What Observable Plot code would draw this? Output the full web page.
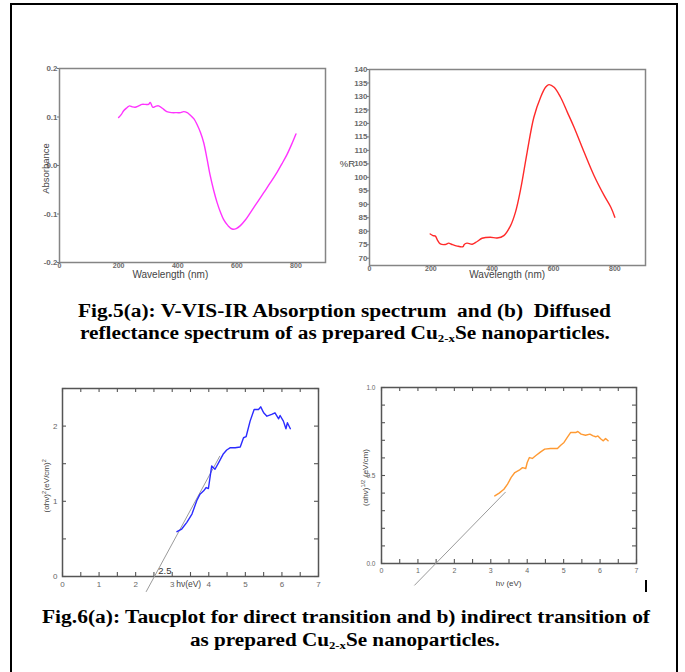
<!DOCTYPE html>
<html><head><meta charset="utf-8">
<script src="https://cdn.jsdelivr.net/npm/d3@7"></script>
<script src="https://cdn.jsdelivr.net/npm/@observablehq/plot@0.6"></script>
<style>
body{margin:0;background:#fff;width:685px;height:672px;overflow:hidden;position:relative;font-family:"Liberation Sans",Arial,sans-serif}
#border{position:absolute;left:10px;top:3px;width:664px;height:700px;border:2px solid #000;border-bottom:none}
.panel{position:absolute}
.panel svg{overflow:visible}
.cap{position:absolute;font-family:"Liberation Serif","Times New Roman",serif;font-weight:bold;color:#000;white-space:nowrap;font-size:18px;line-height:22px;transform-origin:center center}
.cap sub{font-size:0.6em;vertical-align:-0.25em;line-height:0}
#bar{position:absolute;left:645px;top:580px;width:2px;height:12px;background:#000}
</style></head><body>
<div id="border"></div>
<div id="p1" class="panel" style="left:29px;top:58px"></div>
<div id="p2" class="panel" style="left:329px;top:57px"></div>
<div id="p3" class="panel" style="left:30px;top:378px"></div>
<div id="p4" class="panel" style="left:345px;top:377px"></div>
<div id="bar"></div>
<div id="c1a" class="cap" data-cx="344.5" data-cy="311" data-w="533">Fig.5(a): V-VIS-IR Absorption spectrum&nbsp; and (b)&nbsp; Diffused</div>
<div id="c1b" class="cap" data-cx="345" data-cy="333" data-w="530">reflectance spectrum of as prepared Cu<sub>2-x</sub>Se nanoparticles.</div>
<div id="c2a" class="cap" data-cx="346" data-cy="617" data-w="608">Fig.6(a): Taucplot for direct transition and b) indirect transition of</div>
<div id="c2b" class="cap" data-cx="345" data-cy="640" data-w="310">as prepared Cu<sub>2-x</sub>Se nanoparticles.</div>
<script>
// ---- Fig 5(a) absorbance ----
const absWavelength = [200,210,217,228,237,246,256,268,279,290,301,307,316,325,335,348,363,380,397,410,420,432,442,455,465,477,488,499,510,522,533,545,555,570,584,598,612,628,646,668,691,714,736,753,770,785,800];
const absValue = [0.099,0.106,0.113,0.119,0.123,0.121,0.120,0.123,0.126,0.126,0.126,0.130,0.120,0.122,0.123,0.118,0.111,0.109,0.109,0.109,0.111,0.109,0.104,0.096,0.085,0.068,0.047,0.014,-0.021,-0.052,-0.076,-0.097,-0.111,-0.124,-0.131,-0.130,-0.124,-0.113,-0.097,-0.077,-0.056,-0.035,-0.014,0.004,0.023,0.043,0.065];
const absYTicks = [-0.2,-0.1,0,0.1,0.2];
const wlTicks = [0,200,400,600,800];

// ---- Fig 5(b) reflectance ----
const refWavelength = [198,207,215,222,231,247,258,269,286,305,309,318,335,351,367,394,416,438,460,476,493,514,536,558,574,585,602,623,645,667,700,732,765,787,800];
const refValue = [79.0,78.4,78.2,76.6,75.3,75.1,75.6,75.1,74.5,74.3,75.1,75.6,75.2,76.2,77.4,77.8,77.5,78.4,82.1,87.1,95.7,109.3,122.3,129.7,133.4,134.4,133.4,129.7,124.2,118.6,109.3,100.7,93.3,88.9,85.2];
const refYTicks = [70,75,80,85,90,95,100,105,110,115,120,125,130,135,140];

// ---- Fig 6(a) direct Tauc ----
const directHv = [3.13,3.26,3.40,3.54,3.67,3.76,3.86,3.93,3.99,4.04,4.08,4.17,4.27,4.39,4.49,4.59,4.72,4.86,4.95,5.02,5.13,5.24,5.36,5.42,5.50,5.59,5.72,5.81,5.91,5.95,6.04,6.11,6.15,6.23];
const directVal = [0.596,0.631,0.720,0.830,1.007,1.095,1.139,1.183,1.170,1.338,1.470,1.426,1.514,1.625,1.682,1.713,1.713,1.722,1.845,1.859,2.066,2.221,2.221,2.256,2.177,2.132,2.155,2.177,2.097,2.141,2.066,1.965,2.044,1.965];
const directFitHv = [2.29,4.3];
const directFitVal = [-0.2,1.6];
const directGapLabel = "2.5";

// ---- Fig 6(b) indirect Tauc ----
const indirectHv = [3.11,3.23,3.36,3.46,3.56,3.66,3.78,3.87,3.96,4.00,4.06,4.14,4.23,4.37,4.48,4.64,4.83,4.92,5.01,5.10,5.19,5.33,5.39,5.48,5.60,5.72,5.81,5.88,5.94,6.03,6.09,6.15,6.22];
const indirectVal = [0.384,0.400,0.422,0.451,0.489,0.517,0.530,0.545,0.540,0.574,0.602,0.597,0.612,0.634,0.650,0.653,0.653,0.672,0.688,0.716,0.744,0.744,0.750,0.735,0.729,0.735,0.725,0.720,0.725,0.706,0.697,0.710,0.697];
const indirectFitHv = [0.91,3.4];
const indirectFitVal = [-0.123,0.405];

const hvTicks = [0,1,2,3,4,5,6,7];
const hvMinor = d3.range(0,7.01,0.5);
const directMinorY = d3.range(0,2.51,0.5);
const indirectMinorY = d3.range(0,1.01,0.1);

const zip = (xs, ys) => xs.map((x,i)=>({x, y: ys[i]}));
const baseStyle = {fontFamily:'"Liberation Sans",Arial,sans-serif', background:"transparent", overflow:"visible"};

// inward ticks on all four sides of a frame of size fw x fh
function innerTicks(xs, ys, fw, fh, len, color){
  return [
    Plot.tickX(xs, {x:d=>d, insetTop:fh-len, stroke:color, strokeWidth:1.1}),
    Plot.tickX(xs, {x:d=>d, insetBottom:fh-len, stroke:color, strokeWidth:1.1}),
    Plot.tickY(ys, {y:d=>d, insetRight:fw-len, stroke:color, strokeWidth:1.1}),
    Plot.tickY(ys, {y:d=>d, insetLeft:fw-len, stroke:color, strokeWidth:1.1})
  ];
}

// Panel 1
const p1 = Plot.plot({
  width:306, height:234, marginLeft:30, marginRight:10, marginTop:10, marginBottom:30,
  style:{...baseStyle, fontSize:"8px", color:"#666"},
  x:{domain:[0,900]}, y:{domain:[-0.2,0.2]},
  marks:[
    Plot.frame({stroke:"#858585", strokeWidth:1.5}),
    Plot.axisY({ticks:absYTicks, tickSize:2, tickPadding:0, tickFormat:d=>d.toFixed(1), label:null, fill:"#6a6a6a", fontWeight:"bold", stroke:"#777"}),
    Plot.axisX({ticks:wlTicks, tickSize:0, tickPadding:1, tickFormat:d=>String(d), label:null, fill:"#6a6a6a", fontWeight:"bold", fontSize:7}),
    Plot.line(zip(absWavelength, absValue), {x:"x", y:"y", stroke:"#ff33ff", strokeWidth:1.4, curve:"catmull-rom"}),
    Plot.text(["Wavelength (nm)"], {x:()=>375, frameAnchor:"bottom", dy:15, fontSize:10, fill:"#444"}),
    Plot.text(["Absorbance"], {frameAnchor:"left", textAnchor:"middle", rotate:-90, dx:-14, dy:3, fontSize:9.5, fill:"#444"})
  ]
});
document.getElementById("p1").append(p1);

// Panel 2
const p2 = Plot.plot({
  width:326, height:236, marginLeft:40, marginRight:10, marginTop:12, marginBottom:28,
  style:{...baseStyle, fontSize:"8px", color:"#666"},
  x:{domain:[0,900]}, y:{domain:[67.3,140]},
  marks:[
    Plot.frame({stroke:"#858585", strokeWidth:1.5}),
    Plot.axisY({ticks:refYTicks, tickSize:2, tickPadding:0, tickFormat:d=>String(d), label:null, fill:"#6a6a6a", fontWeight:"bold", stroke:"#777"}),
    Plot.axisX({ticks:wlTicks, tickSize:0, tickPadding:1, tickFormat:d=>String(d), label:null, fill:"#6a6a6a", fontWeight:"bold", fontSize:7}),
    Plot.line(zip(refWavelength, refValue), {x:"x", y:"y", stroke:"#ff2a2a", strokeWidth:1.4, curve:"catmull-rom"}),
    Plot.text(["Wavelength (nm)"], {x:()=>449, frameAnchor:"bottom", dy:12.5, fontSize:10, fill:"#444"}),
    Plot.text(["%R"], {frameAnchor:"left", textAnchor:"middle", dx:-22, dy:-4, fontSize:9.5, fill:"#444"})
  ]
});
document.getElementById("p2").append(p2);

// Panel 3
const p3 = Plot.plot({
  width:303, height:220, marginLeft:32, marginRight:15, marginTop:10, marginBottom:22,
  style:{...baseStyle, fontSize:"8px", color:"#666"},
  x:{domain:[0,7]}, y:{domain:[0,2.5]},
  marks:[
    ...innerTicks(hvMinor, directMinorY, 256, 188, 4, "#555"),
    Plot.axisX({ticks:hvTicks, tickSize:0, tickPadding:5, tickFormat:d=>String(d), label:null, fill:"#666"}),
    Plot.axisY({ticks:[0,1,2], tickSize:0, tickPadding:5, tickFormat:d=>String(d), label:null, fill:"#666"}),
    Plot.frame({stroke:"#555", strokeWidth:1.5}),
    Plot.line(zip(directFitHv, directFitVal), {x:"x", y:"y", stroke:"#9a9a9a", strokeWidth:1}),
    Plot.line(zip(directHv, directVal), {x:"x", y:"y", stroke:"#2b2bff", strokeWidth:1.4}),
    Plot.text([directGapLabel], {x:()=>2.62, y:()=>0.07, textAnchor:"start", fontSize:9.5, fill:"#333"}),
    Plot.text(["hν(eV)"], {x:()=>3.45, frameAnchor:"bottom", dy:10, fontSize:8.5, fill:"#444"}),
    Plot.text(["Y"], {frameAnchor:"left", textAnchor:"middle", rotate:-90, dx:-16, dy:3, fontSize:8, fill:"#444", className:"ylab3"})
  ]
});
document.getElementById("p3").append(p3);

// Panel 4
const p4 = Plot.plot({
  width:305, height:218, marginLeft:36, marginRight:14, marginTop:10, marginBottom:32,
  style:{...baseStyle, fontSize:"7px", color:"#666"},
  x:{domain:[0,7]}, y:{domain:[0,1]},
  marks:[
    ...innerTicks(hvMinor, indirectMinorY, 255, 176, 4, "#555"),
    Plot.axisX({ticks:hvTicks, tickSize:0, tickPadding:5, tickFormat:d=>String(d), label:null, fill:"#666"}),
    Plot.axisY({ticks:[0,0.5,1], tickSize:0, tickPadding:6, tickFormat:d=>d.toFixed(1), label:null, fill:"#666", fontSize:6.5}),
    Plot.frame({stroke:"#555", strokeWidth:1.5}),
    Plot.line(zip(indirectFitHv, indirectFitVal), {x:"x", y:"y", stroke:"#9a9a9a", strokeWidth:1}),
    Plot.line(zip(indirectHv, indirectVal), {x:"x", y:"y", stroke:"#ff9a33", strokeWidth:1.4}),
    Plot.text(["hν (eV)"], {x:()=>3.49, frameAnchor:"bottom", dy:22, fontSize:8, fill:"#444"}),
    Plot.text(["Y"], {frameAnchor:"left", textAnchor:"middle", rotate:-90, dx:-16, dy:2, fontSize:8, fill:"#444", className:"ylab4"})
  ]
});
document.getElementById("p4").append(p4);

function supLabel(svg, cls, parts){
  d3.select(svg).selectAll("."+cls+" text").each(function(){
    const t = d3.select(this); t.text(null);
    parts.forEach(([s,sup])=>{
      if(sup){ t.append("tspan").attr("dy",-3).attr("font-size","5.5px").text(s); t.append("tspan").attr("dy",3).text("\u200a"); }
      else t.append("tspan").text(s);
    });
  });
}
supLabel(p3, "ylab3", [["(αhν)",0],["2",1],["(eV/cm)",0],["2",1]]);
supLabel(p4, "ylab4", [["(αhν)",0],["1/2",1],[" (eV/cm)",0]]);

// Captions: fit each line horizontally
document.querySelectorAll(".cap").forEach(el=>{
  const w = el.getBoundingClientRect().width;
  const s = (+el.dataset.w)/w;
  el.style.left = (+el.dataset.cx - w/2) + "px";
  el.style.top = (+el.dataset.cy - 11) + "px";
  el.style.transform = `scaleX(${s})`;
});
</script>
</body></html>
